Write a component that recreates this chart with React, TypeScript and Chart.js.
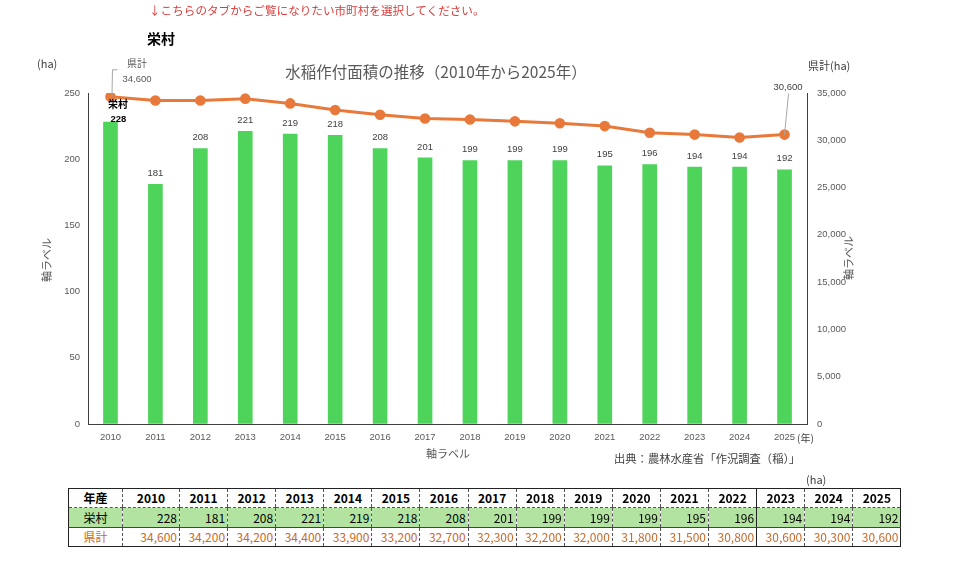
import React, { useEffect, useRef } from "react";
import { Chart, registerables } from "chart.js";

Chart.register(...registerables);

const years = ["2010", "2011", "2012", "2013", "2014", "2015", "2016", "2017", "2018", "2019", "2020", "2021", "2022", "2023", "2024", "2025"];
const sakaeValues = [228, 181, 208, 221, 219, 218, 208, 201, 199, 199, 199, 195, 196, 194, 194, 192];
const prefValues = [34600, 34200, 34200, 34400, 33900, 33200, 32700, 32300, 32200, 32000, 31800, 31500, 30800, 30600, 30300, 30600];
const leftTicks = [0, 50, 100, 150, 200, 250];
const rightTicks = [0, 5000, 10000, 15000, 20000, 25000, 30000, 35000];

const muniName = "栄村";
const prefName = "県計";
const chartTitle = "水稲作付面積の推移（2010年から2025年）";
const axisLabel = "軸ラベル";
const sourceText = "出典：農林水産省「作況調査（稲）」";
const noticeText = "↓こちらのタブからご覧になりたい市町村を選択してください。";

const GREEN = "#4ed35b";
const ORANGE = "#e8793a";
const GRAY = "#595959";
const JP = '"Noto Sans CJK JP", "Noto Sans", sans-serif';
const NUM = '"Liberation Sans", Arial, sans-serif';

const fmt = (n: number) => n.toLocaleString("en-US");

const overlayPlugin = {
  id: "overlay",
  afterDraw(chart: any) {
    const ctx = chart.ctx as CanvasRenderingContext2D;
    const x = chart.scales.x;
    const y = chart.scales.y;
    const y1 = chart.scales.y1;
    ctx.save();
    ctx.textBaseline = "middle";

    // bar value labels
    sakaeValues.forEach((v, i) => {
      const px = x.getPixelForValue(i);
      const py = y.getPixelForValue(v);
      if (i === 0) {
        ctx.fillStyle = "#000";
        ctx.textAlign = "center";
        ctx.font = `bold 10px ${JP}`;
        ctx.fillText(muniName, px + 7.5, py - 18);
        ctx.font = `bold 9.5px ${NUM}`;
        ctx.fillText(String(v), px + 8, py - 2.5);
      } else {
        ctx.fillStyle = "#404040";
        ctx.textAlign = "center";
        ctx.font = `9.5px ${NUM}`;
        ctx.fillText(String(v), px, py - 11);
      }
    });

    // line labels (first and last)
    const fx = x.getPixelForValue(0);
    const fy = y1.getPixelForValue(prefValues[0]);
    ctx.strokeStyle = "#a6a6a6";
    ctx.lineWidth = 1;
    ctx.beginPath();
    ctx.moveTo(fx + 1.5, fy);
    ctx.lineTo(fx + 2, fy - 27);
    ctx.lineTo(fx + 7, fy - 27);
    ctx.stroke();
    ctx.fillStyle = GRAY;
    ctx.textAlign = "center";
    ctx.font = `10px ${JP}`;
    ctx.fillText(prefName, fx + 26.5, fy - 34);
    ctx.font = `9.5px ${NUM}`;
    ctx.fillText(fmt(prefValues[0]), fx + 26.5, fy - 17.5);

    const li = prefValues.length - 1;
    const lx = x.getPixelForValue(li);
    const ly = y1.getPixelForValue(prefValues[li]);
    ctx.beginPath();
    ctx.moveTo(lx, ly);
    ctx.lineTo(lx + 4, ly - 41);
    ctx.stroke();
    ctx.fillStyle = "#404040";
    ctx.fillText(fmt(prefValues[li]), lx + 3.5, ly - 47.5);

    // title
    ctx.fillStyle = GRAY;
    ctx.font = `15.5px ${JP}`;
    ctx.textAlign = "center";
    ctx.fillText(chartTitle, 436, 72);

    // unit labels
    ctx.font = `11px ${JP}`;
    ctx.textAlign = "left";
    ctx.fillStyle = "#404040";
    ctx.fillText("(ha)", 37, 64);
    ctx.fillText(prefName + "(ha)", 808, 66);
    ctx.font = `10px ${JP}`;
    ctx.fillText("(年)", 797, 438);

    // axis titles
    ctx.fillStyle = GRAY;
    ctx.font = `11px ${JP}`;
    ctx.textAlign = "center";
    ctx.fillText(axisLabel, 448, 454);
    ctx.save();
    ctx.translate(47, 260);
    ctx.rotate(-Math.PI / 2);
    ctx.fillText(axisLabel, 0, 0);
    ctx.restore();
    ctx.save();
    ctx.translate(849, 258);
    ctx.rotate(-Math.PI / 2);
    ctx.fillText(axisLabel, 0, 0);
    ctx.restore();

    // source
    ctx.fillStyle = "#404040";
    ctx.font = `11.3px ${JP}`;
    ctx.textAlign = "left";
    ctx.fillText(sourceText, 614, 459);

    ctx.restore();
  },
};

const colWidths = [54, 57, ...Array(15).fill(48.1)];

export default function App() {
  const ref = useRef<HTMLCanvasElement | null>(null);

  useEffect(() => {
    if (!ref.current) return;
    const chart = new Chart(ref.current, {
      type: "bar",
      data: {
        labels: years,
        datasets: [
          {
            type: "line",
            label: prefName,
            data: prefValues,
            yAxisID: "y1",
            borderColor: ORANGE,
            backgroundColor: ORANGE,
            borderWidth: 3,
            pointRadius: 3.8,
            pointBackgroundColor: ORANGE,
            pointBorderColor: ORANGE,
            tension: 0,
            order: 0,
          } as any,
          {
            type: "bar",
            label: muniName,
            data: sakaeValues,
            yAxisID: "y",
            backgroundColor: GREEN,
            barThickness: 14,
            order: 1,
          },
        ],
      },
      options: {
        responsive: false,
        animation: false,
        layout: { padding: { top: 93, left: 0, right: 0, bottom: 0 } },
        plugins: {
          legend: { display: false },
          tooltip: { enabled: false },
          title: { display: false },
        },
        scales: {
          x: {
            offset: true,
            grid: { display: true, drawOnChartArea: false, drawTicks: false },
            border: { display: true, color: "#404040", width: 1 },
            ticks: { color: GRAY, font: { family: NUM, size: 9.5 }, padding: 8, maxRotation: 0, autoSkip: false },
            afterFit: (s: any) => { s.height = 56; },
          },
          y: {
            position: "left",
            min: 0,
            max: 250,
            afterBuildTicks: (s: any) => { s.ticks = leftTicks.map((v) => ({ value: v })); },
            grid: { display: true, drawOnChartArea: false, drawTicks: false },
            border: { display: true, color: "#404040", width: 1 },
            ticks: { color: GRAY, font: { family: NUM, size: 9.5 }, padding: 8 },
            afterFit: (s: any) => { s.width = 88; },
          },
          y1: {
            position: "right",
            min: 0,
            max: 35000,
            afterBuildTicks: (s: any) => { s.ticks = rightTicks.map((v) => ({ value: v })); },
            grid: { display: true, drawOnChartArea: false, drawTicks: false },
            border: { display: true, color: "#404040", width: 1 },
            ticks: { color: GRAY, font: { family: NUM, size: 9.5 }, padding: 10, callback: (v: any) => fmt(Number(v)) },
            afterFit: (s: any) => { s.width = 153; },
          },
        },
      },
      plugins: [overlayPlugin],
    });
    return () => chart.destroy();
  }, []);

  const cellBase: React.CSSProperties = {
    padding: "0 2px",
    fontFamily: JP,
    fontSize: 12,
    lineHeight: "18px",
    borderLeft: "1px dashed #555",
    whiteSpace: "nowrap",
    overflow: "hidden",
  };

  const vBorder = (i: number) => (i === 13 ? "1px solid #222" : "1px dashed #555");

  return (
    <div style={{ position: "absolute", left: 0, top: 0, width: 960, height: 568, background: "#fff", overflow: "hidden" }}>
      <canvas ref={ref} width={960} height={480} style={{ position: "absolute", left: 0, top: 0, width: 960, height: 480 }} />
      <div style={{ position: "absolute", left: 149, top: 2, fontFamily: JP, fontSize: 11.6, lineHeight: "16px", color: "#dc3a3a", whiteSpace: "nowrap" }}>
        {noticeText}
      </div>
      <div style={{ position: "absolute", left: 147, top: 29, fontFamily: JP, fontSize: 14, fontWeight: "bold", lineHeight: "18px", color: "#000" }}>
        {muniName}
      </div>
      <div style={{ position: "absolute", left: 806, top: 471, fontFamily: JP, fontSize: 11, lineHeight: "16px", color: "#404040", whiteSpace: "nowrap" }}>
        (ha)
      </div>
      <table
        style={{
          position: "absolute",
          left: 68,
          top: 488,
          borderCollapse: "collapse",
          border: "1px solid #222",
          tableLayout: "fixed",
          width: colWidths.reduce((a, b) => a + b, 0),
        }}
      >
        <colgroup>
          {colWidths.map((w, i) => (
            <col key={i} style={{ width: w }} />
          ))}
        </colgroup>
        <tbody>
          <tr style={{ height: 19 }}>
            <td style={{ ...cellBase, textAlign: "center", fontWeight: "bold", borderLeft: "none", borderBottom: "1px dashed #555" }}>年産</td>
            {years.map((yv, i) => (
              <td key={yv} style={{ ...cellBase, textAlign: "center", fontWeight: "bold", borderLeft: vBorder(i), borderBottom: "1px dashed #555" }}>
                {yv}
              </td>
            ))}
          </tr>
          <tr style={{ height: 20, background: "#b3e3a0" }}>
            <td style={{ ...cellBase, textAlign: "center", borderLeft: "none", borderBottom: "1px solid #444" }}>{muniName}</td>
            {sakaeValues.map((v, i) => (
              <td key={i} style={{ ...cellBase, textAlign: "right", borderLeft: vBorder(i), borderBottom: "1px solid #444" }}>
                {v}
              </td>
            ))}
          </tr>
          <tr style={{ height: 19 }}>
            <td style={{ ...cellBase, textAlign: "center", borderLeft: "none", color: "#c8692a" }}>{prefName}</td>
            {prefValues.map((v, i) => (
              <td key={i} style={{ ...cellBase, textAlign: "right", borderLeft: vBorder(i), color: "#c8692a" }}>
                {fmt(v)}
              </td>
            ))}
          </tr>
        </tbody>
      </table>
    </div>
  );
}
